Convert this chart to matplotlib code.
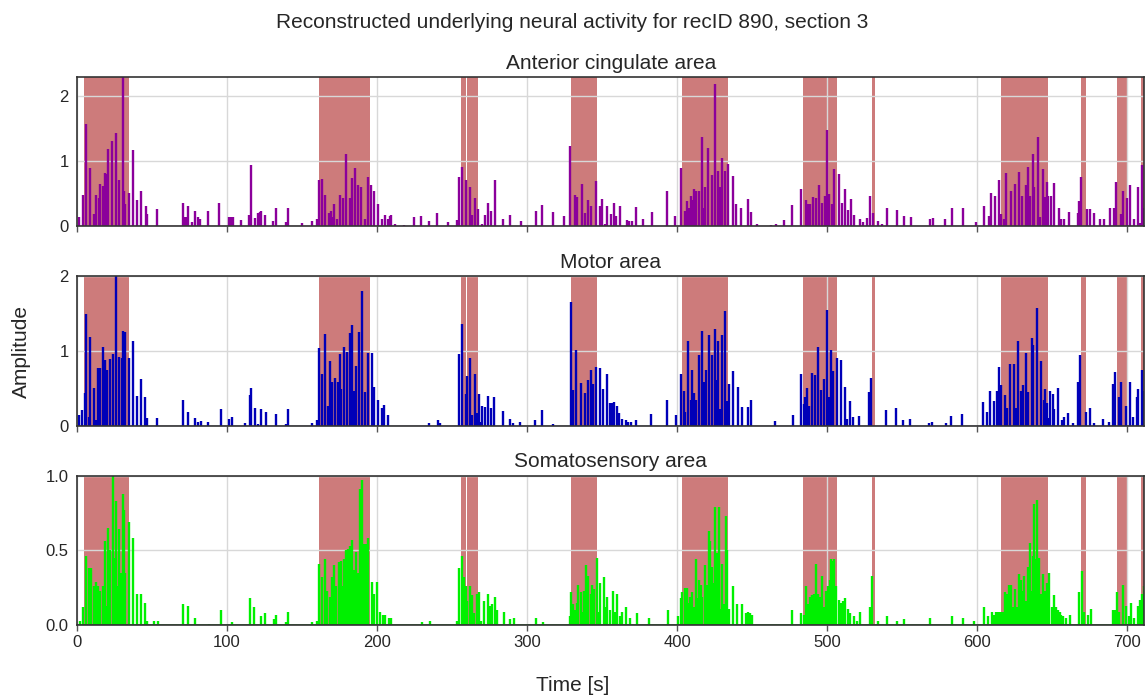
import matplotlib
matplotlib.use("Agg")
from matplotlib import pyplot as plt

plt.rcParams['font.family'] = ['Liberation Sans', 'DejaVu Sans']

# Shaded intervals (start, end) in seconds.
spans = [(4.9, 34.4), (161.4, 195.2), (255.8, 259.6), (260.3, 267.5),
         (329.3, 346.6), (403.6, 434.2), (483.6, 506.3), (529.7, 531.9),
         (616.1, 647.4), (669.4, 672.7), (692.9, 700.2), (709.5, 712.0)]

# Anterior cingulate area: spike times and amplitudes.
acc_t = [1.1, 4.0, 6.0, 8.7, 11.5, 12.6, 14.4, 15.3, 17.1, 18.9, 19.8, 20.6, 23.3, 26.0, 28.0, 30.6, 31.5, 32.2,
         34.6, 37.3, 39.9, 42.6, 45.7, 46.8, 53.5, 55.5, 70.8, 71.9, 72.6, 73.9, 76.4, 78.4, 81.0, 82.1, 87.5, 95.0,
         101.2, 102.6, 103.7, 109.4, 112.3, 115.0, 116.3, 118.5, 120.5, 121.9, 123.0, 125.4, 131.0, 132.8, 139.2,
         141.0, 150.3, 156.7, 160.3, 161.6, 163.6, 165.6, 168.0, 169.2, 170.3, 171.6, 173.6, 175.6, 177.4, 179.6,
         181.8, 183.0, 185.6, 187.4, 189.4, 192.3, 193.8, 196.3, 198.3, 200.9, 203.6, 205.1, 207.0, 208.5, 209.4,
         212.3, 218.0, 224.9, 229.5, 234.6, 240.2, 247.1, 253.5, 254.9, 256.4, 259.1, 262.2, 263.6, 265.5, 267.5,
         269.7, 271.7, 273.7, 276.2, 278.4, 284.2, 288.8, 295.9, 305.7, 310.2, 317.2, 324.8, 328.8, 331.9, 333.0,
         336.4, 338.8, 340.8, 342.5, 345.9, 348.3, 350.1, 352.1, 353.4, 355.7, 357.9, 359.2, 361.7, 366.3, 368.1,
         369.7, 372.8, 377.0, 383.0, 393.6, 398.7, 402.7, 405.2, 406.5, 407.8, 409.0, 410.1, 411.4, 412.5, 414.5,
         416.5, 418.0, 418.9, 420.9, 423.4, 425.4, 427.4, 428.3, 430.0, 432.0, 434.0, 437.6, 439.6, 442.9, 447.4,
         449.0, 453.6, 462.6, 465.8, 471.1, 476.7, 482.7, 485.8, 487.3, 488.9, 490.7, 492.7, 494.7, 496.7, 498.6,
         500.2, 501.5, 503.3, 504.8, 507.7, 510.0, 512.0, 514.0, 515.8, 518.0, 522.0, 523.8, 526.4, 528.4, 530.6,
         533.9, 536.6, 539.7, 546.6, 551.5, 555.9, 568.6, 570.6, 578.6, 583.2, 588.1, 590.6, 599.4, 604.6, 607.6,
         609.2, 611.9, 614.3, 615.6, 617.6, 619.0, 622.5, 625.2, 627.9, 630.1, 632.8, 633.9, 635.5, 637.5, 638.2,
         640.3, 641.9, 643.6, 645.2, 646.3, 647.4, 649.4, 651.2, 654.5, 656.1, 657.8, 661.2, 666.9, 667.8, 669.4,
         673.2, 675.2, 678.0, 682.0, 684.5, 688.5, 691.1, 692.5, 695.8, 697.0, 699.8, 702.0, 704.5, 707.4, 708.3,
         709.8, 710.9]
acc_v = [0.15, 0.49, 1.58, 0.90, 0.19, 0.49, 0.43, 0.65, 0.62, 0.82, 0.81, 1.19, 1.31, 1.43, 0.72, 2.30, 0.55, 0.34,
         0.51, 1.18, 0.40, 0.55, 0.31, 0.19, 0.27, 0.01, 0.36, 0.14, 0.14, 0.31, 0.06, 0.23, 0.15, 0.11, 0.24, 0.36,
         0.15, 0.14, 0.14, 0.10, 0.01, 0.18, 0.94, 0.13, 0.20, 0.22, 0.23, 0.17, 0.08, 0.29, 0.06,
         0.28, 0.05, 0.08, 0.12, 0.72, 0.73, 0.48, 0.21, 0.23, 0.14, 0.34, 0.11, 0.49, 0.44, 1.12,
         0.44, 0.75, 0.90, 0.64, 0.60, 0.12, 0.76, 0.64, 0.55, 0.34, 0.11, 0.18, 0.11, 0.16, 0.18,
         0.04, 0.02, 0.14, 0.16, 0.08, 0.20, 0.06, 0.10, 0.76, 0.91, 0.71, 0.60, 0.18, 0.43, 0.26,
         0.04, 0.18, 0.36, 0.23, 0.72, 0.12, 0.18, 0.08, 0.23, 0.33, 0.22, 0.16, 1.24, 0.48, 0.45,
         0.65, 0.21, 0.41, 0.31, 0.70, 0.31, 0.42, 0.04, 0.32, 0.19, 0.36, 0.16, 0.32, 0.10, 0.08,
         0.08, 0.30, 0.11, 0.22, 0.55, 0.16, 0.90, 0.23, 0.39, 0.29, 0.46, 0.41, 0.57, 0.55, 0.54,
         1.38, 0.29, 0.60, 1.21, 0.79, 2.19, 0.86, 0.61, 1.06, 0.85, 0.96, 0.78, 0.34, 0.29, 0.42,
         0.22, 0.04, 0.02, 0.04, 0.10, 0.33, 0.57, 0.41, 0.35, 0.35, 0.45, 0.44, 0.63, 0.36, 0.46,
         1.48, 0.50, 0.35, 0.89, 0.81, 0.36, 0.58, 0.25, 0.42, 0.17, 0.11, 0.06, 0.13, 0.46, 0.20,
         0.08, 0.03, 0.28, 0.25, 0.16, 0.14, 0.11, 0.13, 0.11, 0.29, 0.01, 0.29, 0.07, 0.32, 0.16,
         0.52, 0.47, 0.72, 0.19, 0.12, 0.82, 0.54, 0.65, 0.83, 0.46, 0.64, 0.91, 0.46, 1.12, 0.61,
         1.37, 0.15, 0.89, 0.45, 0.68, 0.47, 0.47, 0.66, 0.28, 0.12, 0.12, 0.22, 0.21, 0.39, 0.76,
         0.27, 0.26, 0.20, 0.11, 0.11, 0.28, 0.29, 0.68, 0.19, 0.54, 0.43, 0.64, 0.12, 0.60, 0.05,
         0.95, 0.29]

# Motor area.
mot_t = [1.1, 3.1, 5.1, 6.0, 7.8, 8.7, 11.3, 12.6, 14.0, 15.3, 17.1, 18.6, 19.9, 22.0, 23.7, 25.8, 27.8, 29.8,
         30.8, 31.9, 34.4, 37.1, 39.9, 42.6, 45.5, 46.9, 53.5, 70.6, 73.9, 78.6, 80.6, 82.6, 87.2, 95.9, 101.2,
         103.4, 111.9, 115.2, 116.3, 118.5, 120.4, 122.8, 125.7, 132.8, 139.2, 141.0, 156.9, 160.3, 161.4, 163.2,
         165.6, 167.6, 169.0, 170.3, 172.2, 174.0, 175.1, 176.2, 178.0, 179.8, 181.8, 183.3, 184.6, 186.0, 188.0,
         190.2, 192.3, 194.0, 196.5, 198.3, 200.4, 203.1, 204.9, 207.5, 234.4, 240.4, 242.2, 254.9, 256.4, 259.1,
         260.1, 262.2, 263.6, 265.5, 266.4, 267.7, 269.1, 270.2, 271.7, 274.2, 276.2, 278.2, 284.0, 288.7, 290.9,
         295.3, 305.5, 310.0, 317.0, 329.0, 330.4, 332.8, 336.0, 338.6, 340.8, 342.6, 343.9, 345.9, 348.3, 350.6,
         353.2, 355.4, 356.5, 358.1, 360.1, 361.2, 363.2, 366.1, 367.2, 369.2, 372.8, 382.8, 393.4, 399.6, 402.5,
         404.5, 405.6, 407.6, 409.2, 410.1, 411.6, 412.3, 414.3, 416.5, 417.9, 419.4, 421.2, 423.0, 425.2, 426.5,
         427.4, 428.5, 430.1, 431.9, 433.4, 434.8, 437.4, 440.5, 443.2, 447.4, 449.4, 465.6, 477.3, 482.4, 484.6,
         485.5, 486.8, 488.0, 490.0, 492.2, 494.2, 496.0, 497.8, 500.0, 501.3, 502.7, 504.0, 506.6, 509.3, 512.0,
         513.3, 515.3, 517.5, 521.1, 527.7, 529.1, 539.0, 545.9, 550.6, 555.2, 567.9, 569.9, 579.0, 582.8, 590.1,
         603.9, 606.5, 608.5, 611.2, 613.2, 614.5, 615.8, 618.5, 619.8, 621.8, 624.5, 625.8, 627.2, 629.2, 630.5,
         632.5, 633.8, 636.5, 637.4, 639.8, 642.5, 644.3, 645.1, 646.5, 647.6, 648.7, 650.7, 651.4, 654.0, 656.7,
         658.0, 660.7, 664.0, 666.9, 668.7, 672.7, 674.9, 677.8, 684.0, 687.8, 690.5, 692.0, 694.5, 696.2, 699.4,
         701.8, 703.8, 706.7, 707.4, 709.6, 710.3]
mot_v = [0.14, 0.21, 0.44, 1.50, 0.12, 1.19, 0.51, 0.07, 0.77, 0.77, 1.05, 0.88, 0.75, 0.89, 0.96, 2.00, 0.92, 0.90,
         1.27, 1.25, 0.91, 1.13, 0.40, 0.62, 0.39, 0.10, 0.10, 0.35, 0.18, 0.10, 0.05, 0.06, 0.05, 0.22, 0.09,
         0.12, 0.04, 0.41, 0.51, 0.23, 0.02, 0.22, 0.18, 0.15, 0.02, 0.22, 0.04, 0.08, 1.04, 0.69,
         1.23, 0.26, 0.86, 0.58, 0.64, 0.59, 0.96, 0.49, 1.06, 0.99, 1.24, 1.35, 0.47, 0.80, 1.26,
         1.81, 0.45, 0.97, 0.98, 0.52, 0.34, 0.23, 0.28, 0.14, 0.04, 0.07, 0.04, 0.96, 1.36, 0.43,
         0.67, 0.90, 0.14, 0.69, 0.17, 0.42, 0.05, 0.27, 0.25, 0.40, 0.23, 0.39, 0.19, 0.09, 0.03,
         0.05, 0.07, 0.21, 0.02, 1.66, 0.48, 1.02, 0.57, 0.44, 0.61, 0.74, 0.56, 0.79, 0.77, 0.49,
         0.69, 0.31, 0.31, 0.32, 0.26, 0.17, 0.09, 0.07, 0.05, 0.05, 0.07, 0.16, 0.35, 0.14, 0.69,
         0.46, 0.18, 1.13, 0.35, 0.74, 0.44, 0.35, 0.94, 1.27, 0.59, 0.75, 1.21, 0.94, 1.29, 0.61,
         1.13, 0.22, 1.22, 1.53, 0.33, 0.56, 0.73, 0.52, 0.25, 0.25, 0.35, 0.06, 0.14, 0.69, 0.29,
         0.38, 0.51, 0.26, 0.71, 0.68, 1.05, 0.48, 0.63, 1.55, 0.39, 1.02, 0.73, 0.90, 0.88, 0.52,
         0.09, 0.33, 0.12, 0.13, 0.45, 0.64, 0.21, 0.23, 0.07, 0.09, 0.04, 0.05, 0.03, 0.13, 0.15,
         0.32, 0.18, 0.46, 0.33, 0.47, 0.78, 0.55, 0.41, 0.23, 0.83, 0.83, 0.23, 1.14, 0.46, 0.55,
         0.98, 0.45, 1.17, 1.08, 1.57, 0.87, 0.35, 0.49, 0.30, 0.10, 0.46, 0.42, 0.22, 0.51, 0.07,
         0.11, 0.17, 0.04, 0.58, 0.94, 0.18, 0.24, 0.04, 0.09, 0.05, 0.56, 0.72, 0.38, 0.59, 0.26,
         0.58, 0.12, 0.39, 0.49, 0.74, 0.46]

# Somatosensory area.
som_t = [1.9, 4.0, 6.2, 7.8, 9.4, 11.6, 12.6, 14.2, 15.5, 17.1, 18.6, 19.7, 20.8, 21.9, 23.7, 24.4, 25.7, 26.6,
         27.9, 29.3, 30.4, 31.5, 32.2, 34.6, 37.3, 39.7, 42.6, 45.5, 47.0, 51.3, 53.9, 70.6, 73.9, 78.6, 87.7, 95.7,
         103.4, 115.2, 118.1, 122.5, 125.2, 131.4, 132.8, 139.2, 141.0, 156.9, 160.3, 161.4, 163.4, 165.6, 166.9,
         168.5, 170.0, 171.4, 172.5, 174.7, 175.8, 176.7, 178.0, 179.6, 180.7, 181.8, 183.3, 184.5, 185.8, 187.1,
         188.5, 189.8, 191.4, 192.5, 194.2, 196.5, 198.3, 200.2, 202.2, 204.2, 205.1, 207.7, 209.5, 230.0, 235.1,
         253.5, 254.9, 256.7, 258.0, 259.3, 260.2, 262.2, 263.1, 264.9, 266.4, 268.0, 269.6, 271.3, 273.8, 275.3,
         276.7, 278.4, 280.2, 284.4, 288.9, 291.3, 306.2, 310.6, 328.3, 329.5, 330.8, 331.9, 333.4, 334.1, 335.9,
         337.0, 338.1, 339.0, 340.7, 342.3, 343.2, 344.5, 346.3, 347.6, 348.7, 351.0, 352.3, 353.6, 355.0, 357.0,
         358.3, 359.9, 362.1, 363.2, 365.9, 368.8, 373.2, 381.0, 393.9, 400.3, 402.5, 403.6, 405.0, 406.3, 407.6,
         408.7, 410.1, 411.4, 412.5, 413.6, 414.7, 415.8, 416.9, 418.5, 419.8, 421.1, 422.0, 423.4, 424.2, 425.6,
         426.7, 427.8, 428.9, 429.8, 431.1, 432.5, 433.6, 434.7, 437.4, 440.0, 443.6, 445.8, 447.6, 448.5, 449.8,
         476.7, 482.7, 484.3, 486.0, 487.4, 488.7, 490.1, 491.4, 492.7, 493.9, 495.2, 496.7, 497.8, 499.2, 500.5,
         501.6, 502.3, 503.6, 504.9, 505.8, 507.8, 509.1, 510.5, 512.2, 513.8, 515.1, 518.2, 519.6, 522.2, 528.4,
         530.0, 534.0, 539.7, 546.6, 551.3, 568.6, 583.2, 590.6, 597.7, 604.6, 607.2, 609.9, 611.5, 612.6, 613.7,
         615.0, 615.9, 617.0, 618.6, 619.9, 621.3, 622.6, 624.0, 625.3, 626.6, 628.0, 629.1, 630.4, 631.3, 632.4,
         634.0, 635.1, 636.2, 637.1, 638.0, 639.1, 640.2, 641.3, 642.6, 644.0, 645.3, 646.4, 648.2, 650.0, 651.3,
         652.4, 654.0, 655.1, 656.0, 657.3, 658.9, 662.0, 668.0, 670.0, 671.1, 673.7, 676.2, 690.6, 692.0, 693.3,
         694.6, 696.9, 698.9, 700.9, 702.6, 704.4, 707.5, 708.6, 709.9, 711.0]
som_v = [0.03, 0.12, 0.46, 0.38, 0.38, 0.26, 0.29, 0.26, 0.23, 0.26, 0.56, 0.13, 0.65, 0.50, 1.00, 0.45, 0.83, 0.26,
         0.64, 0.35, 0.88, 0.77, 0.35, 0.69, 0.58, 0.21, 0.21, 0.15, 0.03, 0.03, 0.03, 0.14, 0.13, 0.05, 0.01, 0.10,
         0.02, 0.18, 0.12, 0.06, 0.08, 0.04, 0.07, 0.02, 0.09, 0.02, 0.03, 0.41, 0.32, 0.44, 0.23,
         0.19, 0.32, 0.40, 0.26, 0.42, 0.43, 0.26, 0.44, 0.50, 0.51, 0.53, 0.57, 0.37, 0.49, 0.35,
         0.91, 0.97, 0.54, 0.54, 0.58, 0.29, 0.21, 0.29, 0.09, 0.07, 0.07, 0.05, 0.05, 0.02, 0.03,
         0.03, 0.38, 0.46, 0.32, 0.26, 0.16, 0.26, 0.20, 0.08, 0.21, 0.22, 0.03, 0.16, 0.21, 0.13,
         0.14, 0.19, 0.10, 0.09, 0.04, 0.05, 0.05, 0.02, 0.06, 0.22, 0.14, 0.10, 0.15, 0.27, 0.22,
         0.09, 0.23, 0.40, 0.33, 0.21, 0.27, 0.24, 0.45, 0.09, 0.28, 0.32, 0.12, 0.19, 0.10, 0.23,
         0.09, 0.21, 0.06, 0.09, 0.12, 0.05, 0.08, 0.05, 0.10, 0.06, 0.18, 0.22, 0.25, 0.25, 0.15,
         0.19, 0.22, 0.12, 0.44, 0.18, 0.30, 0.27, 0.19, 0.40, 0.27, 0.63, 0.56, 0.39, 0.28, 0.79,
         0.48, 0.79, 0.11, 0.41, 0.14, 0.73, 0.50, 0.11, 0.26, 0.14, 0.14, 0.08, 0.09, 0.08, 0.07,
         0.10, 0.08, 0.07, 0.26, 0.14, 0.19, 0.20, 0.21, 0.41, 0.21, 0.19, 0.33, 0.12, 0.23, 0.26,
         0.30, 0.44, 0.43, 0.44, 0.26, 0.17, 0.15, 0.16, 0.18, 0.11, 0.08, 0.06, 0.03, 0.09, 0.12,
         0.33, 0.03, 0.06, 0.03, 0.04, 0.05, 0.06, 0.05, 0.03, 0.12, 0.06, 0.09, 0.07, 0.09, 0.09,
         0.09, 0.09, 0.09, 0.22, 0.21, 0.27, 0.27, 0.12, 0.24, 0.12, 0.34, 0.30, 0.23, 0.33, 0.16,
         0.39, 0.55, 0.23, 0.46, 0.81, 0.44, 0.84, 0.45, 0.21, 0.34, 0.23, 0.28, 0.35, 0.12, 0.20,
         0.12, 0.10, 0.09, 0.07, 0.06, 0.05, 0.07, 0.22, 0.36, 0.09, 0.07, 0.11, 0.10, 0.10, 0.22,
         0.09, 0.27, 0.13, 0.06, 0.15, 0.05, 0.13, 0.17, 0.21, 0.26]

titles = ["Anterior cingulate area", "Motor area", "Somatosensory area"]
colors = ["#8b009b", "#0000b8", "#00f000"]
base_colors = ["#b070c0", "#10106a", "#1f8f1f"]
ylims = [2.3, 2.0, 1.0]
yticks = [[0, 1, 2], [0, 1, 2], [0.0, 0.5, 1.0]]
ytick_labels = [["0", "1", "2"], ["0", "1", "2"], ["0.0", "0.5", "1.0"]]
data = [(acc_t, acc_v), (mot_t, mot_v), (som_t, som_v)]

fig = plt.figure(figsize=(11.45, 6.97), dpi=100)
fig.subplots_adjust(left=0.0672, right=0.9995, bottom=0.1033, top=0.8895, hspace=0.335)
axes = fig.subplots(3, 1, sharex=True)

for i, ax in enumerate(axes):
    t, v = data[i]
    for s0, s1 in spans:
        ax.axvspan(s0, s1, color="#cd7b7b", lw=0, zorder=1)
    ax.grid(True, color="#d8d8d8", lw=1.0, zorder=1.5)
    ax.vlines(t, 0, v, color=colors[i], lw=1.7, zorder=2)
    ax.axhline(0, color=base_colors[i], lw=1.8 if i == 2 else 1.0, zorder=2.1)
    ax.set_xlim(0, 711.5)
    ax.set_ylim(0, ylims[i])
    ax.set_yticks(yticks[i])
    ax.set_yticklabels(ytick_labels[i])
    ax.set_xticks(range(0, 701, 100))
    ax.set_title(titles[i], fontsize=15, color="#262626", pad=6)
    ax.tick_params(axis="y", length=0, labelsize=12, colors="#262626", pad=6)
    ax.tick_params(axis="x", length=4, width=1, color="#555555", labelsize=12, labelcolor="#262626")
    for sp in ax.spines.values():
        sp.set_color("#333333")
        sp.set_linewidth(1.2)

fig.suptitle("Reconstructed underlying neural activity for recID 890, section 3",
             fontsize=15, y=0.968, va="center", color="#262626")
fig.supxlabel("Time [s]", fontsize=15, y=0.016, va="center", color="#262626")
fig.supylabel("Amplitude", fontsize=15, x=0.019, y=0.495, ha="center", color="#262626")

fig.savefig("out.png", dpi=100)
